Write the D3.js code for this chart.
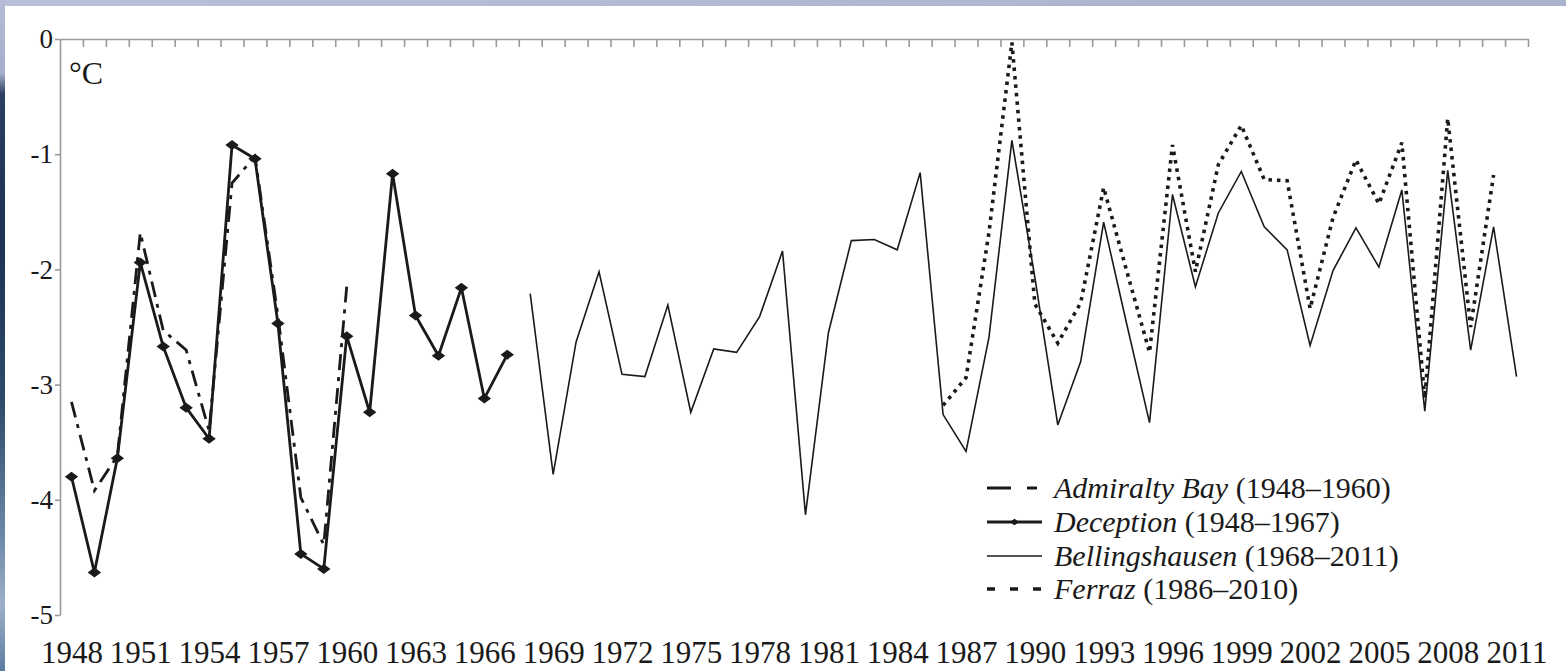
<!DOCTYPE html>
<html>
<head>
<meta charset="utf-8">
<script src="https://cdn.jsdelivr.net/npm/d3@7"></script>
<style>
  html, body { margin: 0; padding: 0; background: #ffffff; }
  svg { display: block; }
</style>
</head>
<body>
<svg id="chart" width="1566" height="671"></svg>
<script>
// ---------------- DATA ----------------
const years = d3.range(1948, 2012);                       // x categories
const xTickLabels = [1948,1951,1954,1957,1960,1963,1966,1969,1972,1975,1978,1981,1984,1987,1990,1993,1996,1999,2002,2005,2008,2011];
const yTickValues = [0, -1, -2, -3, -4, -5];

const admiraltyStart = 1948;
const admiraltyValues = [-3.15, -3.92, -3.62, -1.68, -2.53, -2.70, -3.40, -1.25, -1.02, -2.40, -3.98, -4.39, -2.15];

const deceptionStart = 1948;
const deceptionValues = [-3.80, -4.63, -3.64, -1.94, -2.67, -3.20, -3.47, -0.92, -1.04, -2.47, -4.47, -4.60, -2.58, -3.24, -1.17, -2.40, -2.75, -2.16, -3.12, -2.74];

const bellingStart = 1968;
const bellingValues = [-2.21, -3.78, -2.63, -2.02, -2.91, -2.93, -2.31, -3.24, -2.69, -2.72, -2.41, -1.84, -4.13, -2.55, -1.75, -1.74, -1.83, -1.16, -3.26, -3.58, -2.59, -0.88, -2.07, -3.35, -2.80, -1.59, -2.47, -3.33, -1.35, -2.15, -1.51, -1.15, -1.63, -1.83, -2.66, -2.01, -1.64, -1.98, -1.31, -3.23, -1.14, -2.70, -1.63, -2.93];

const ferrazStart = 1986;
const ferrazValues = [-3.18, -2.94, -1.68, -0.03, -2.30, -2.64, -2.29, -1.29, -2.01, -2.72, -0.92, -2.02, -1.09, -0.75, -1.22, -1.23, -2.34, -1.55, -1.05, -1.43, -0.90, -3.12, -0.69, -2.50, -1.18];

const legendNames = ["Admiralty Bay", "Deception", "Bellingshausen", "Ferraz"];
const legendRanges = [" (1948\u20131960)", " (1948\u20131967)", " (1968\u20132011)", " (1986\u20132010)"];
const unitLabel = "\u00B0C";

// ---------------- SETUP ----------------
const W = 1566, H = 671;
const svg = d3.select("#chart");
const ink = "#1a1a1a";
const serif = "Liberation Serif";

// slide background (blue strips on the top and left edges)
const defs = svg.append("defs");
const gLeft = defs.append("linearGradient").attr("id", "leftGrad").attr("x1", 0).attr("y1", 0).attr("x2", 0).attr("y2", 1);
[["0%", "#b6bed6"], ["11%", "#a3aecb"], ["14%", "#2c3f60"], ["35%", "#1d3150"], ["60%", "#2d4a6c"], ["80%", "#6d88a8"], ["90%", "#9db0c8"], ["100%", "#5d7ba0"]]
  .forEach(([o, c]) => gLeft.append("stop").attr("offset", o).attr("stop-color", c));
const gTop = defs.append("linearGradient").attr("id", "topGrad").attr("x1", 0).attr("y1", 0).attr("x2", 1).attr("y2", 0);
[["0%", "#b9c0d8"], ["100%", "#aab2cc"]].forEach(([o, c]) => gTop.append("stop").attr("offset", o).attr("stop-color", c));

svg.append("rect").attr("x", 0).attr("y", 0).attr("width", W).attr("height", 6).attr("fill", "url(#topGrad)");
svg.append("rect").attr("x", 0).attr("y", 0).attr("width", 5).attr("height", H).attr("fill", "url(#leftGrad)");
svg.append("rect").attr("x", 5).attr("y", 6).attr("width", W - 5).attr("height", H - 6).attr("fill", "#ffffff");

// scales
const x = d3.scaleLinear().domain([years[0] - 0.5, years[years.length - 1] + 0.5]).range([60, 1528]);
const y = d3.scaleLinear().domain([-5, 0]).range([615, 39]);

// ---------------- AXES ----------------
const boundaries = years.slice(1).map(d => d - 0.5);
const topAxis = svg.append("g").attr("transform", `translate(0,${y(0)})`)
  .call(d3.axisBottom(x).tickValues(boundaries.concat([years[years.length - 1] + 0.5])).tickFormat("").tickSize(8).tickSizeOuter(0));
topAxis.selectAll("path,line").attr("stroke", "#9a9a9a").attr("stroke-width", 1.6);

const yAxis = svg.append("g").attr("transform", `translate(${x.range()[0]},0)`)
  .call(d3.axisLeft(y).tickValues(yTickValues).tickSize(5).tickSizeOuter(0)
    .tickFormat(d => d === 0 ? "0" : "-" + Math.abs(d)));
yAxis.attr("font-family", serif);
yAxis.selectAll("path,line").attr("stroke", "#9a9a9a").attr("stroke-width", 1.6);
yAxis.selectAll("text").attr("font-family", serif).attr("font-size", 27).attr("fill", ink).attr("x", -7);

const bottomAxis = svg.append("g").attr("transform", `translate(0,641)`)
  .call(d3.axisBottom(x).tickValues(xTickLabels).tickSize(0).tickFormat(d3.format("d")));
bottomAxis.attr("font-family", serif);
bottomAxis.select(".domain").remove();
bottomAxis.selectAll("text").attr("font-family", serif).attr("font-size", 31).attr("fill", ink).attr("dy", "0.71em").attr("y", 0);

svg.append("text").attr("x", 69).attr("y", 84).attr("font-family", serif).attr("font-size", 32).attr("fill", ink).text(unitLabel);

// ---------------- SERIES ----------------
const toPts = (start, vals) => vals.map((v, i) => ({ year: start + i, v }));
const line = d3.line().x(d => x(d.year)).y(d => y(d.v));

const belling = toPts(bellingStart, bellingValues);
const ferraz = toPts(ferrazStart, ferrazValues);
const deception = toPts(deceptionStart, deceptionValues);
const admiralty = toPts(admiraltyStart, admiraltyValues);

svg.append("path").datum(belling).attr("d", line).attr("fill", "none")
  .attr("stroke", ink).attr("stroke-width", 1.6).attr("stroke-linejoin", "miter");

svg.append("path").datum(ferraz).attr("d", line).attr("fill", "none")
  .attr("stroke", ink).attr("stroke-width", 3.6).attr("stroke-dasharray", "3.5 5").attr("stroke-linecap", "butt");

svg.append("path").datum(deception).attr("d", line).attr("fill", "none")
  .attr("stroke", ink).attr("stroke-width", 2.8).attr("stroke-linejoin", "round");

const wideDiamond = {
  draw(ctx, size) {
    const hw = Math.sqrt(size) * 0.75, hh = Math.sqrt(size) * 0.56;
    ctx.moveTo(0, -hh); ctx.lineTo(hw, 0); ctx.lineTo(0, hh); ctx.lineTo(-hw, 0); ctx.closePath();
  }
};
svg.append("g").selectAll("path").data(deception).join("path")
  .attr("transform", d => `translate(${x(d.year)},${y(d.v)})`)
  .attr("d", d3.symbol().type(wideDiamond).size(80)).attr("fill", ink);

svg.append("path").datum(admiralty).attr("d", line).attr("fill", "none")
  .attr("stroke", ink).attr("stroke-width", 2.8).attr("stroke-dasharray", "16 7 4 7");

// ---------------- LEGEND ----------------
const lgX0 = 987, lgX1 = 1042, lgTextX = 1054;
const rowY = [488, 522, 556, 589];
const lg = svg.append("g").attr("font-family", serif);
const samples = [
  { w: 2.8, dash: "24 16 10 40" },
  { w: 2.8, dash: null, marker: true },
  { w: 1.6, dash: null },
  { w: 3.6, dash: "8 15" }
];
samples.forEach((s, i) => {
  const p = lg.append("line").attr("x1", lgX0).attr("x2", lgX1).attr("y1", rowY[i]).attr("y2", rowY[i])
    .attr("stroke", ink).attr("stroke-width", s.w);
  if (s.dash) p.attr("stroke-dasharray", s.dash);
  if (s.marker) lg.append("path").attr("transform", `translate(${(lgX0 + lgX1) / 2},${rowY[i]})`)
    .attr("d", d3.symbol().type(wideDiamond).size(36)).attr("fill", ink);
  const t = lg.append("text").attr("x", lgTextX).attr("y", rowY[i]).attr("dy", "0.34em")
    .attr("font-family", serif).attr("font-size", 30).attr("fill", ink);
  t.append("tspan").attr("font-style", "italic").text(legendNames[i]);
  t.append("tspan").text(legendRanges[i]);
});
</script>
</body>
</html>
